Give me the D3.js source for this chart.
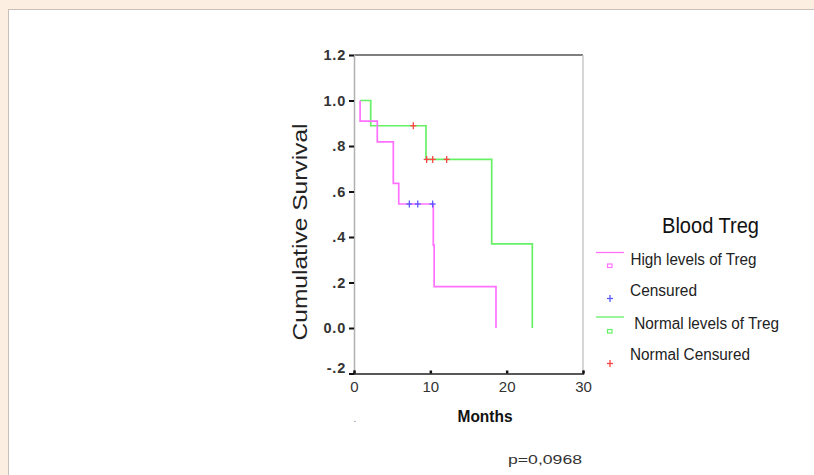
<!DOCTYPE html>
<html>
<head>
<meta charset="utf-8">
<script src="https://cdn.jsdelivr.net/npm/d3@7/dist/d3.min.js"></script>
<style>
  html, body { margin: 0; padding: 0; background: #fdeee2; }
  svg { display: block; font-family: "Liberation Sans", Arial, sans-serif; }
</style>
</head>
<body>
<svg id="chart" width="814" height="475"></svg>
<script>
// ---- data ----
const highTimes = [0.8, 0.8, 3.05, 5.15, 5.86, 10.39, 10.5, 18.6];
const highSurv  = [1.0, 0.909, 0.818, 0.636, 0.545, 0.364, 0.182, 0.0];
const normTimes = [0.8, 2.19, 9.43, 18.04, 23.36];
const normSurv  = [1.0, 0.889, 0.741, 0.370, 0.0];
const highCensTimes = [7.25, 8.35, 10.3];
const highCensSurv  = [0.545, 0.545, 0.545];
const normCensTimes = [7.77, 9.52, 10.31, 12.14];
const normCensSurv  = [0.889, 0.741, 0.741, 0.741];
const yTicks = [-0.2, 0, 0.2, 0.4, 0.6, 0.8, 1.0, 1.2];
const yTickLabels = ["-.2", "0.0", ".2", ".4", ".6", ".8", "1.0", "1.2"];
const xTicks = [0, 10, 20, 30];
const xTickLabels = ["0", "10", "20", "30"];
const legendTitle = "Blood Treg";
const legendLabels = ["High levels of Treg", "Censured", " Normal levels of Treg", "Normal Censured"];

const svg = d3.select("#chart");

// panel
svg.append("rect").attr("x", 8.5).attr("y", 9.5).attr("width", 820).attr("height", 480)
  .attr("fill", "#fff").attr("stroke", "#c8c0b8").attr("stroke-width", 1);

const x = d3.scaleLinear().domain([0, 30]).range([354, 583]);
const y = d3.scaleLinear().domain([-0.2, 1.2]).range([373.5, 55]);

// frame: top and right borders
svg.append("line").attr("x1", x(0)).attr("x2", x(30)).attr("y1", y(1.2)).attr("y2", y(1.2))
  .attr("stroke", "#555").attr("stroke-width", 1.5);
svg.append("line").attr("x1", x(30)).attr("x2", x(30)).attr("y1", y(1.2)).attr("y2", y(-0.2))
  .attr("stroke", "#c8c8c8").attr("stroke-width", 1.5);

// y axis
const yAxis = svg.append("g").attr("transform", `translate(${x(0)},0)`)
  .call(d3.axisLeft(y).tickValues(yTicks).tickSize(5).tickPadding(3)
    .tickFormat((d, i) => yTickLabels[i]));
yAxis.select(".domain").attr("stroke", "#b0b0b0").attr("stroke-width", 1.5);
yAxis.selectAll(".tick line").attr("stroke", "#111").attr("stroke-width", 2);
yAxis.selectAll(".tick text").attr("font-size", 14.5).attr("font-weight", "bold")
  .attr("fill", "#333").style("letter-spacing", "0.8px")
  .attr("dy", (d) => d === -0.2 ? "-0.1em" : "0.32em");

// x axis
const xAxis = svg.append("g").attr("transform", `translate(0,${y(-0.2)})`)
  .call(d3.axisBottom(x).tickValues(xTicks).tickSize(-3).tickPadding(8)
    .tickFormat((d, i) => xTickLabels[i]));
xAxis.select(".domain").attr("stroke", "#222").attr("stroke-width", 1.5);
xAxis.selectAll(".tick line").attr("stroke", "#111").attr("stroke-width", 2.5);
xAxis.selectAll(".tick text").attr("font-size", 15).attr("fill", "#333");

// curves
const line = d3.line().x(d => x(d[0])).y(d => y(d[1])).curve(d3.curveStepAfter);
const highPts = highTimes.map((t, i) => [t, highSurv[i]]);
const normPts = normTimes.map((t, i) => [t, normSurv[i]]);
svg.append("path").attr("d", line(normPts)).attr("fill", "none")
  .attr("stroke", "#66f066").attr("stroke-width", 1.7);
svg.append("path").attr("d", line(highPts)).attr("fill", "none")
  .attr("stroke", "#ff70ff").attr("stroke-width", 1.7);

// censored marks
function plus(g, cx, cy, color) {
  g.append("line").attr("x1", cx - 3).attr("x2", cx + 3).attr("y1", cy).attr("y2", cy)
    .attr("stroke", color).attr("stroke-width", 1.3);
  g.append("line").attr("x1", cx).attr("x2", cx).attr("y1", cy - 3.5).attr("y2", cy + 3.5)
    .attr("stroke", color).attr("stroke-width", 1.3);
}
const cens = svg.append("g");
highCensTimes.forEach((t, i) => plus(cens, x(t), y(highCensSurv[i]), "#5a5aff"));
normCensTimes.forEach((t, i) => plus(cens, x(t), y(normCensSurv[i]), "#ff4444"));

// axis titles
svg.append("text").attr("transform", "translate(307,232) rotate(-90)")
  .attr("text-anchor", "middle").attr("font-size", 20).attr("fill", "#222")
  .attr("textLength", 217).attr("lengthAdjust", "spacingAndGlyphs")
  .text("Cumulative Survival");
svg.append("text").attr("x", 485).attr("y", 421.5).attr("text-anchor", "middle")
  .attr("font-size", 16.5).attr("font-weight", "bold").attr("fill", "#111")
  .attr("textLength", 55).attr("lengthAdjust", "spacingAndGlyphs").text("Months");
svg.append("text").attr("x", 355).attr("y", 422).attr("text-anchor", "middle")
  .attr("font-size", 10).attr("fill", "#777").text(".");
svg.append("text").attr("x", 508).attr("y", 463.5)
  .attr("font-size", 12).attr("fill", "#333")
  .attr("textLength", 74).attr("lengthAdjust", "spacingAndGlyphs").text("p=0,0968");

// legend
const lg = svg.append("g");
lg.append("text").attr("x", 662).attr("y", 232.5).attr("font-size", 22).attr("fill", "#111")
  .attr("textLength", 97).attr("lengthAdjust", "spacingAndGlyphs").text(legendTitle);

const legendColors = ["#ff70ff", "#5a5aff", "#66f066", "#ff4444"];
const legendTextX = [630.5, 630, 630, 630];
const legendTextY = [265, 296, 328.5, 360];
const legendTextLen = [126, 67, 149, 120];
legendLabels.forEach((lab, i) => {
  lg.append("text").attr("x", legendTextX[i]).attr("y", legendTextY[i])
    .attr("font-size", 16).attr("fill", "#222").attr("xml:space", "preserve")
    .style("white-space", "pre")
    .attr("textLength", legendTextLen[i]).attr("lengthAdjust", "spacingAndGlyphs")
    .text(lab);
});
// series lines and square markers
[[0, 252.5, 265.5], [2, 317, 331]].forEach(([ci, ly, my]) => {
  lg.append("line").attr("x1", 596).attr("x2", 624).attr("y1", ly).attr("y2", ly)
    .attr("stroke", legendColors[ci]).attr("stroke-width", 1.3);
  lg.append("rect").attr("x", 607.5).attr("y", my - 1.5).attr("width", 4.5).attr("height", 3.5)
    .attr("fill", "#fff").attr("stroke", legendColors[ci]).attr("stroke-width", 1.2);
});
plus(lg, 610, 298.5, legendColors[1]);
plus(lg, 610, 363.5, legendColors[3]);
</script>
</body>
</html>
